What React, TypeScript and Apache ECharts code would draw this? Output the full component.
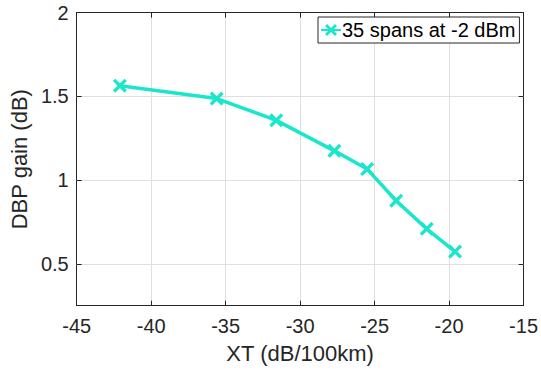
import React, { useEffect, useRef } from "react";
import * as echarts from "echarts";

const seriesName = "35 spans at -2 dBm";
const xtValues = [-42.1, -35.6, -31.6, -27.7, -25.5, -23.55, -21.5, -19.6];
const gainValues = [1.564, 1.487, 1.357, 1.175, 1.066, 0.877, 0.709, 0.573];
const xTicks = { min: -45, max: -15, interval: 5 };
const yTicks = { min: 0.25, max: 2, interval: 0.5 };

const COLOR = "#1ae6cc";
const AXIS = "#262626";
const GRID = "#dfdfdf";
const FONT = "'Liberation Sans', Arial, Helvetica, sans-serif";
const XSYM =
  "path://M0,1.7L1.7,0L5,3.3L8.3,0L10,1.7L6.7,5L10,8.3L8.3,10L5,6.7L1.7,10L0,8.3L3.3,5Z";

export default function App() {
  const ref = useRef<HTMLDivElement>(null);
  useEffect(() => {
    if (!ref.current) return;
    const chart = echarts.init(ref.current, null, { renderer: "svg" });
    const data = xtValues.map((x, i) => [x, gainValues[i]]);
    const yLabelFmt = (v: number) => {
      const r = Math.round(v * 100) / 100;
      return [0.5, 1, 1.5, 2].includes(r) ? String(r) : "";
    };
    const tickCommon = { show: true, inside: true, length: 5, lineStyle: { color: AXIS, width: 1 } };
    chart.setOption({
      animation: false,
      backgroundColor: "#ffffff",
      textStyle: { fontFamily: FONT },
      grid: { left: 73.5, right: 15.3, top: 12.7, bottom: 65.3, containLabel: false },
      legend: {
        show: true,
        data: [seriesName],
        left: 318,
        top: 17,
        orient: "horizontal",
        backgroundColor: "#ffffff",
        borderColor: AXIS,
        borderWidth: 1,
        borderRadius: 0,
        padding: [3, 4, 3, 2],
        itemWidth: 20,
        itemHeight: 15,
        itemGap: 0,
        textStyle: { fontSize: 20, color: "#000000", fontFamily: FONT, padding: [0, 0, 0, -4] },
      },
      xAxis: [
        {
          type: "value",
          min: xTicks.min,
          max: xTicks.max,
          interval: xTicks.interval,
          position: "bottom",
          name: "XT (dB/100km)",
          nameLocation: "middle",
          nameGap: 37,
          nameTextStyle: { fontSize: 22, color: AXIS, fontFamily: FONT },
          axisLine: { show: true, onZero: false, lineStyle: { color: AXIS, width: 1 } },
          axisTick: tickCommon,
          axisLabel: { fontSize: 20, color: AXIS, margin: 10, fontFamily: FONT },
          splitLine: { show: true, lineStyle: { color: GRID, width: 1 } },
        },
        {
          type: "value",
          min: xTicks.min,
          max: xTicks.max,
          interval: xTicks.interval,
          position: "top",
          axisLine: { show: true, onZero: false, lineStyle: { color: AXIS, width: 1 } },
          axisTick: tickCommon,
          axisLabel: { show: false },
          splitLine: { show: false },
        },
      ],
      yAxis: [
        {
          type: "value",
          min: yTicks.min,
          max: yTicks.max,
          interval: 0.25,
          position: "left",
          name: "DBP gain (dB)",
          nameLocation: "middle",
          nameGap: 37,
          nameRotate: 90,
          nameTextStyle: { fontSize: 22, color: AXIS, fontFamily: FONT },
          axisLine: { show: true, onZero: false, lineStyle: { color: AXIS, width: 1 } },
          axisTick: { show: false },
          axisLabel: { fontSize: 20, color: AXIS, margin: 8, fontFamily: FONT, formatter: yLabelFmt },
          splitLine: { show: false },
        },
        {
          type: "value",
          min: yTicks.min,
          max: yTicks.max,
          interval: 0.25,
          position: "right",
          axisLine: { show: true, onZero: false, lineStyle: { color: AXIS, width: 1 } },
          axisTick: { show: false },
          axisLabel: { show: false },
          splitLine: { show: false },
        },
      ],
      series: [
        {
          name: "gridlines",
          type: "line",
          data: [],
          silent: true,
          markLine: {
            silent: true,
            symbol: "none",
            label: { show: false },
            lineStyle: { color: GRID, width: 1, type: "solid" },
            data: [0.5, 1, 1.5].map((v) => ({ yAxis: v })),
          },
        },
        {
          name: "ticks",
          type: "line",
          data: [],
          silent: true,
          markLine: {
            silent: true,
            symbol: "none",
            label: { show: false },
            lineStyle: { color: AXIS, width: 1, type: "solid" },
            data: [0.5, 1, 1.5, 2].flatMap((v) => [
              [{ coord: [xTicks.min, v] }, { coord: [xTicks.min + 0.33, v] }],
              [{ coord: [xTicks.max - 0.33, v] }, { coord: [xTicks.max, v] }],
            ]),
          },
        },
        {
          name: seriesName,
          type: "line",
          data,
          color: COLOR,
          symbol: XSYM,
          symbolSize: 14,
          showSymbol: true,
          lineStyle: { color: COLOR, width: 3.5 },
          itemStyle: { color: COLOR },
          z: 5,
        },
      ],
    });
    return () => chart.dispose();
  }, []);
  return (
    <div
      ref={ref}
      style={{ position: "fixed", left: 0, top: 0, width: 541, height: 371, background: "#fff" }}
    />
  );
}
